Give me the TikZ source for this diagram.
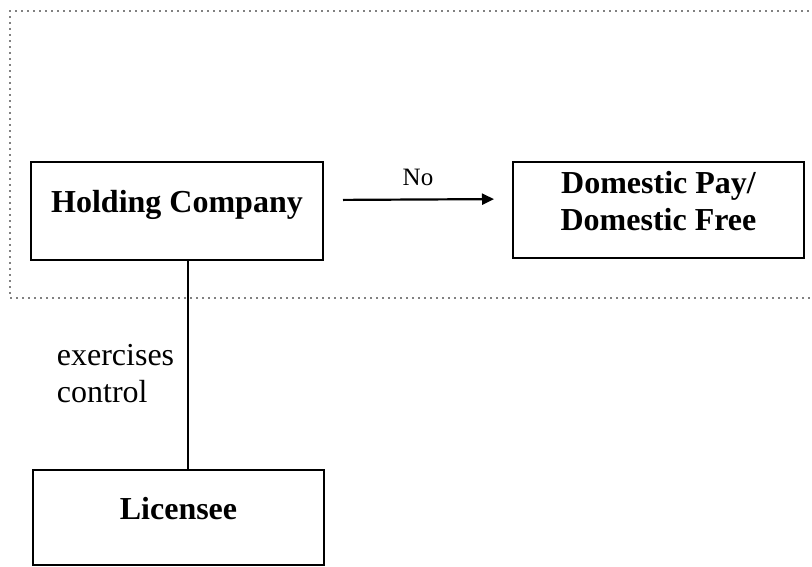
\documentclass[tikz,border=0pt]{standalone}
\usepackage{fontspec}
\setmainfont{Liberation Serif}
\usetikzlibrary{arrows.meta}

\begin{document}
\begin{tikzpicture}[x=1pt, y=1pt, line width=2pt,
  box/.style={draw, minimum width=291pt, minimum height=96pt, inner sep=0pt,
    font=\fontsize{32}{37}\selectfont\bfseries, align=center,
    text height=22pt, text depth=19pt},
  plain/.style={font=\fontsize{32}{37}\selectfont, align=left}]
  \useasboundingbox (0,0) rectangle (812,-566);
  % Dotted frame
  \draw[line width=1.6pt, line cap=round, dash pattern=on 0pt off 6pt]
    (10,-11) rectangle (830,-298);
  % Nodes
  \node[box, minimum width=292pt, minimum height=98pt] (HC) at (177,-211) {Holding Company};
  \node[box, text height=59pt] (DP) at (658.5,-210) {Domestic Pay/\\Domestic Free};
  \node[box, minimum height=95pt] (LIC) at (178.5,-517.5) {Licensee};
  \coordinate (link) at (188,0);
  % Links
  \draw[line width=2.2pt, -{Triangle[length=12pt,width=11pt]}, shorten <=19pt, shorten >=18pt]
    ([yshift=11pt]HC.east) -- ([yshift=11pt]DP.west)
    node[midway, above=9.5pt, font=\fontsize{25}{29}\selectfont] (no) {No};
  \draw[line width=1.6pt] (HC.south -| link) -- (LIC.north -| link)
    node[pos=0.54, left=9.7pt, plain] (ctl) {exercises\\control};
\end{tikzpicture}
\end{document}
